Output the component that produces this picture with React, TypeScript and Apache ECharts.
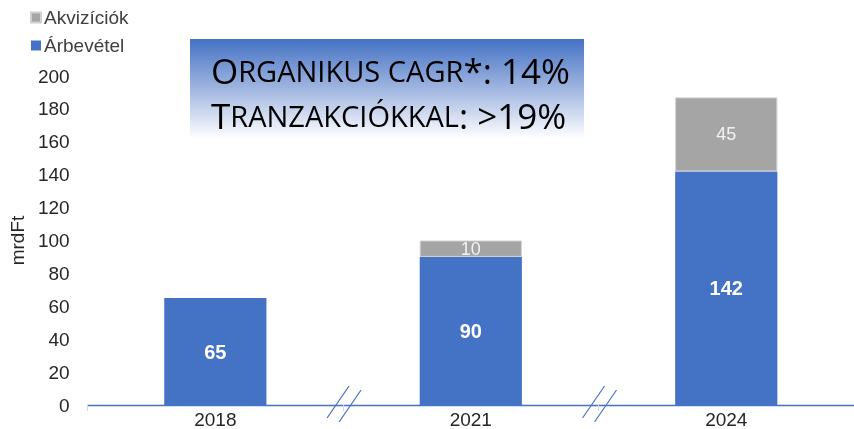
import React, { useEffect, useRef } from "react";
import * as echarts from "echarts";

const categories = ["2018", "2021", "2024"];
const revenue = [65, 90, 142];
const acquisitions: (number | null)[] = [null, 10, 45];
const yTicks = { min: 0, max: 200, interval: 20 };
const seriesNames = ["Akvizíciók", "Árbevétel"];
const headline = [
  ["O", "RGANIKUS CAGR", "*: 14%"],
  ["T", "RANZAKCIÓKKAL", ": >19%"],
];

export default function App() {
  const ref = useRef<HTMLDivElement>(null);
  useEffect(() => {
    if (!ref.current) return;
    const chart = echarts.init(ref.current, null, { renderer: "svg" });
    const font = "Liberation Sans, Arial, sans-serif";
    const titleText = headline
      .map((l) => `{b|${l[0]}}{s|${l[1]}}{b|${l[2]}}`)
      .join("\n");
    chart.setOption({
      animation: false,
      textStyle: { fontFamily: font },
      grid: { left: 86, right: 0, top: 76, bottom: 24, containLabel: false },
      legend: {
        orient: "vertical",
        left: 30,
        top: 8,
        padding: 0,
        itemWidth: 10,
        itemHeight: 10,
        itemGap: 9,
        icon: "rect",
        data: [seriesNames[0], seriesNames[1]],
        textStyle: { fontSize: 19, color: "#404040", fontFamily: font, padding: [0, 0, 0, -2] },
      },
      xAxis: {
        type: "category",
        data: categories,
        axisLine: { lineStyle: { color: "#4472C4", width: 1.3 } },
        axisTick: { show: true, length: 6, lineStyle: { color: "#d9d9d9" } },
        axisLabel: { fontSize: 19, color: "#262626", margin: 5 },
      },
      yAxis: {
        type: "value",
        min: yTicks.min,
        max: yTicks.max,
        interval: yTicks.interval,
        name: "mrdFt",
        nameLocation: "middle",
        nameRotate: 90,
        nameGap: 60,
        nameTextStyle: { fontSize: 19, color: "#262626" },
        splitLine: { show: false },
        axisLine: { show: false },
        axisTick: { show: false },
        axisLabel: { fontSize: 19, color: "#262626", margin: 18 },
      },
      series: [
        {
          name: seriesNames[1],
          type: "bar",
          stack: "total",
          data: revenue,
          barWidth: "40%",
          itemStyle: { color: "#4472C4" },
          label: {
            show: true,
            position: "inside",
            color: "#ffffff",
            fontSize: 20,
            fontWeight: "bold",
          },
        },
        {
          name: seriesNames[0],
          type: "bar",
          stack: "total",
          data: acquisitions,
          barWidth: "40%",
          itemStyle: { color: "#A5A5A5", borderColor: "#d0d0d0", borderWidth: 1 },
          label: {
            show: true,
            position: "inside",
            color: "#f2f2f2",
            fontSize: 18,
            formatter: (p: any) => (p.value ? String(p.value) : ""),
          },
        },
      ],
    });
    const graphics: any[] = [
      {
        id: "box",
        type: "rect",
        left: 190,
        top: 39,
        shape: { width: 394, height: 100 },
        style: {
          fill: new echarts.graphic.LinearGradient(0, 0, 0, 1, [
            { offset: 0, color: "#4472C4" },
            { offset: 0.55, color: "#aabde3" },
            { offset: 1, color: "#ffffff" },
          ]),
        },
        z: 10,
      },
      {
        id: "headline",
        type: "text",
        left: 211,
        top: 53,
        z: 11,
        style: {
          text: titleText,
          rich: {
            b: { fontSize: 35, fontFamily: "Open Sans, sans-serif", fill: "#000", lineHeight: 45 },
            s: { fontSize: 29, fontFamily: "Open Sans, sans-serif", fill: "#000", lineHeight: 45 },
          },
        },
      },
    ];
    // axis break marks at the boundaries between categories
    const y0 = chart.convertToPixel({ yAxisIndex: 0 }, 0) as number;
    for (let i = 0; i < categories.length - 1; i++) {
      const a = chart.convertToPixel({ xAxisIndex: 0 }, categories[i]) as number;
      const b = chart.convertToPixel({ xAxisIndex: 0 }, categories[i + 1]) as number;
      const xm = (a + b) / 2;
      [
        [-5, -3],
        [7, 1],
      ].forEach(([dx, dy], k) => {
        graphics.push({
          id: `brk${i}_${k}`,
          type: "line",
          z: 12,
          shape: { x1: xm + dx - 11, y1: y0 + dy + 16, x2: xm + dx + 11, y2: y0 + dy - 16 },
          style: { stroke: "#4472C4", lineWidth: 1.2 },
        });
      });
    }
    chart.setOption({ graphic: graphics });
    return () => chart.dispose();
  }, []);
  return (
    <div
      ref={ref}
      style={{ width: 854, height: 429, position: "fixed", left: 0, top: 0 }}
    />
  );
}
